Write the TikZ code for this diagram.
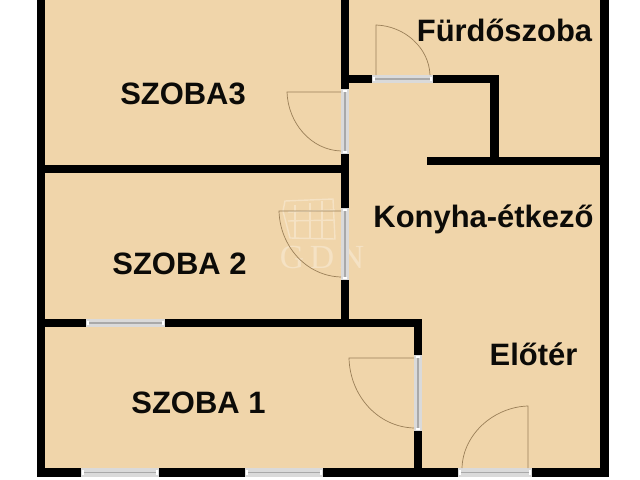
\documentclass[tikz,border=0pt]{standalone}
\usepackage{fontspec}
\usepackage{xcolor}
\setmainfont{Liberation Sans}
\newfontfamily\markfont{Liberation Serif}
\usetikzlibrary{calc}
\definecolor{floorcol}{HTML}{F0D5AA}
\definecolor{doorcol}{HTML}{9A7F58}
\definecolor{framecol}{HTML}{DADADA}
\definecolor{panecol}{HTML}{A9A9A9}
\definecolor{markcol}{HTML}{F5E2C4}
\tikzset{
    wall/.style={line width=5.9pt,black,line cap=rect},
    opening/.style={line width=5.9pt,framecol},
    pane/.style={line width=1.1pt,panecol},
    stopend/.style={line width=3pt,white},
    leaf/.style={line width=0.5pt,doorcol},
    logo/.style={line width=1pt,markcol},
    roomlabel/.style={font=\fontsize{22}{24}\selectfont\bfseries,text=black!95!floorcol,inner sep=0pt}
}

\begin{document}
\begin{tikzpicture}[x=0.025cm,y=-0.025cm]
    \useasboundingbox (0,0) rectangle (640,480);
    \fill[floorcol] (37,0) rectangle (608,477);

    % watermark
    \draw[logo] (283,211) -- (285,201) -- (333,199) -- (335,239) -- (290,238) -- cycle;
    \draw[logo] (295,205) -- (295,238) (310,203) -- (310,239) (322,201) -- (322,239);
    \draw[logo] (288,221) -- (335,220) (288,212) -- (335,210);
    \node[inner sep=0pt,text=markcol,font=\fontsize{24}{26}\selectfont\markfont] (mark) at (322,257) {G\,D\,N};

    % walls
    \draw[wall] (41,0) -- (41,472.5) -- (604.5,472.5) -- (604.5,0);
    \draw[wall] (345,0) -- (345,320);
    \draw[wall] (41,169) -- (345,169);
    \draw[wall] (41,323) -- (418,323) -- (418,472.5);
    \draw[wall] (345,79) -- (494.5,79) -- (494.5,161);
    \draw[wall] (431,161) -- (604.5,161);

    % windows and door openings
    \foreach \xa/\xb/\yy in {86/165/323, 81/159/472.5, 245/323/472.5, 458/532/472.5, 372/433/79} {
        \draw[opening] (\xa,\yy) -- (\xb,\yy);
        \draw[pane] (\xa+3,\yy) -- (\xb-3,\yy);
        \draw[stopend] (\xa+1,\yy) -- (\xa+3,\yy) (\xb-3,\yy) -- (\xb-1,\yy);
    }
    \foreach \xx/\ya/\yb in {345/89/154, 345/208/280, 418/355/431} {
        \draw[opening] (\xx,\ya) -- (\xx,\yb);
        \draw[pane] (\xx,\ya+3) -- (\xx,\yb-3);
        \draw[stopend] (\xx,\ya+1) -- (\xx,\ya+3) (\xx,\yb-3) -- (\xx,\yb-1);
    }

    % door leaves
    \draw[leaf] (376,75) -- (376,25) .. controls (405,26) and (429,48) .. (430,75);
    \draw[leaf] (341,92) -- (287,92) .. controls (288,123) and (311,150) .. (341,151);
    \draw[leaf] (341,211) -- (279,211) .. controls (280,246) and (306,276) .. (341,277);
    \draw[leaf] (414,358) -- (349,358) .. controls (350,396) and (378,427) .. (414,428);
    \draw[leaf] (528,468) -- (528,406) .. controls (494,407) and (463,434) .. (462,468);

    % room names
    \node[roomlabel] (bath) at (504.5,30) {Fürdőszoba};
    \node[roomlabel] (room3) at (183,94) {SZOBA3};
    \node[roomlabel] (kitchen) at (483.5,219) {Konyha-étkező};
    \node[roomlabel] (room2) at (179.5,264) {SZOBA 2};
    \node[roomlabel] (hall) at (533.5,354) {Előtér};
    \node[roomlabel] (room1) at (198.5,403) {SZOBA 1};
\end{tikzpicture}
\end{document}
